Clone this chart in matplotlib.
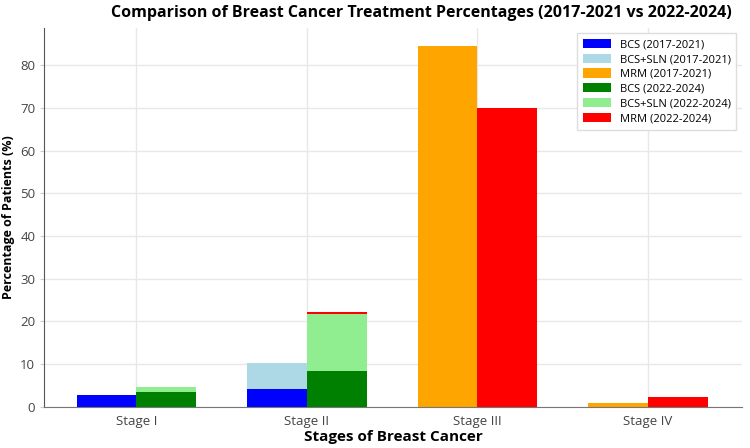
import matplotlib.pyplot as plt
import numpy as np

stages = ["Stage I", "Stage II", "Stage III", "Stage IV"]

# 2017-2021
bcs_old = [2.8, 4.2, 0.0, 0.0]
sln_old = [0.0, 6.0, 0.0, 0.0]
mrm_old = [0.0, 0.0, 84.5, 0.9]

# 2022-2024
bcs_new = [3.4, 8.5, 0.0, 0.0]
sln_new = [1.3, 13.2, 0.0, 0.0]
mrm_new = [0.0, 0.4, 70.0, 2.3]

plt.rcParams['font.family'] = ['Open Sans', 'DejaVu Sans']

x = np.arange(len(stages))
w = 0.35

fig = plt.figure(figsize=(7.5, 4.48), dpi=100)
ax = fig.add_axes([0.059, 0.092, 0.93, 0.846])

ax.bar(x - w / 2, bcs_old, w, color='blue', label='BCS (2017-2021)')
ax.bar(x - w / 2, sln_old, w, bottom=bcs_old, color='lightblue', label='BCS+SLN (2017-2021)')
bottom_old = np.array(bcs_old) + np.array(sln_old)
ax.bar(x - w / 2, mrm_old, w, bottom=bottom_old, color='orange', label='MRM (2017-2021)')

ax.bar(x + w / 2, bcs_new, w, color='green', label='BCS (2022-2024)')
ax.bar(x + w / 2, sln_new, w, bottom=bcs_new, color='lightgreen', label='BCS+SLN (2022-2024)')
bottom_new = np.array(bcs_new) + np.array(sln_new)
ax.bar(x + w / 2, mrm_new, w, bottom=bottom_new, color='red', label='MRM (2022-2024)')

ax.set_xticks(x)
ax.set_xticklabels(stages, fontsize=9.5, color='#444444')
ax.tick_params(axis='x', length=0, pad=6)
ax.tick_params(axis='y', labelsize=9.5, colors='#444444', length=3, color='#cccccc')
ax.set_xlim(-0.54, 3.55)
ax.set_ylim(0, 88.8)

ax.grid(True, color='#e8e8e8', linewidth=1)
ax.set_axisbelow(True)
for s in ['top', 'right']:
    ax.spines[s].set_visible(False)
ax.spines['left'].set_color('#555555')
ax.spines['bottom'].set_color('#777777')

ax.set_xlabel("Stages of Breast Cancer", fontsize=11, fontweight='bold', labelpad=1)
ax.set_ylabel("Percentage of Patients (%)", fontsize=9, fontweight='bold')
ax.set_title("Comparison of Breast Cancer Treatment Percentages (2017-2021 vs 2022-2024)",
             fontsize=11.5, fontweight='bold', pad=8, x=0.54)

ax.legend(loc='upper right', fontsize=8, handlelength=2.5, handleheight=0.9,
          labelspacing=0.3, fancybox=False, edgecolor='#dddddd', framealpha=1,
          borderpad=0.5)

plt.savefig('out.png', dpi=100)
